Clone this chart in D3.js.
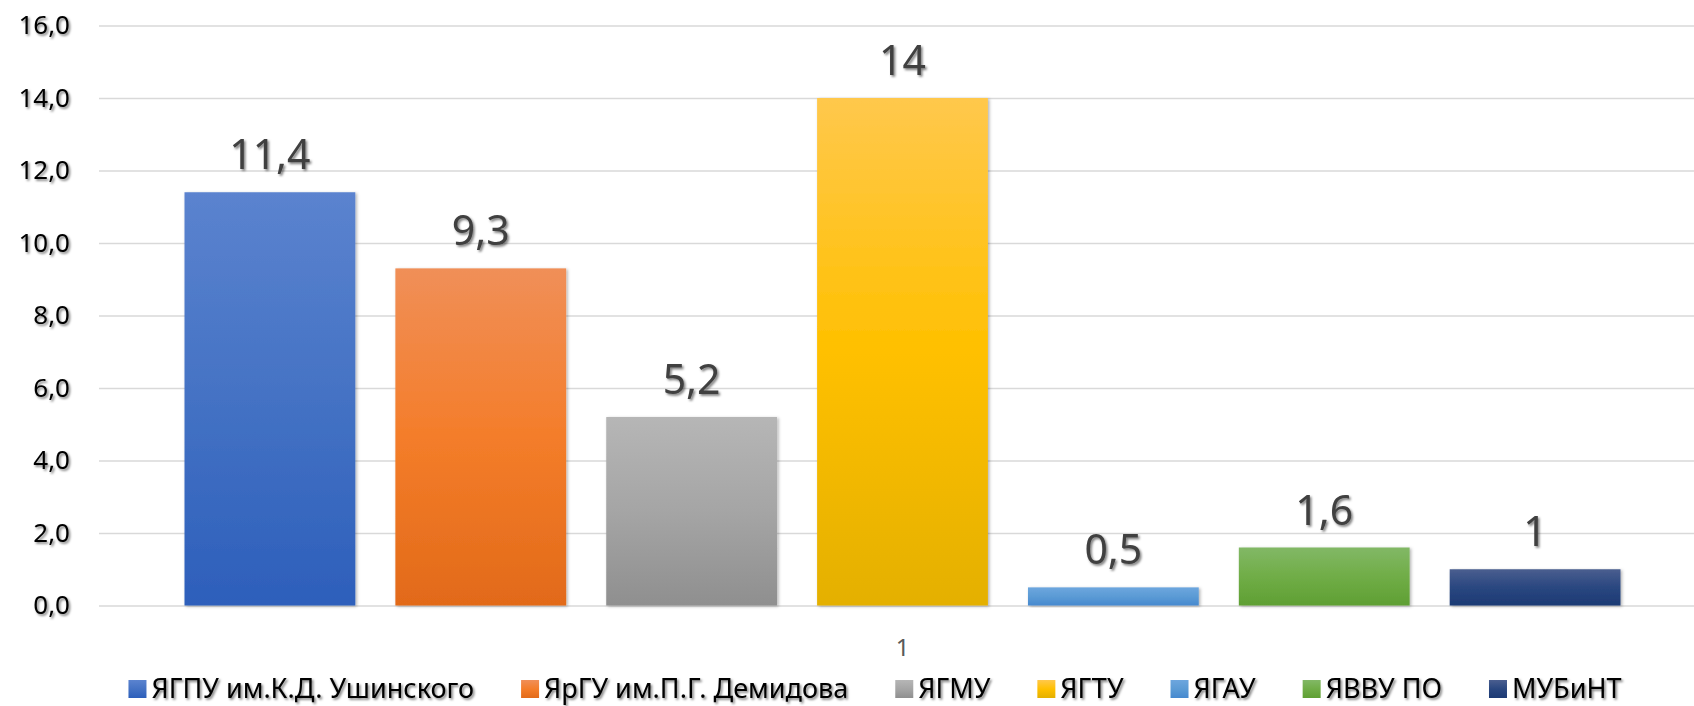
<!DOCTYPE html>
<html>
<head>
<meta charset="utf-8">
<script src="https://cdn.jsdelivr.net/npm/d3@7"></script>
<style>
  html, body { margin: 0; padding: 0; background: #fff; }
  svg { display: block; font-family: 'Noto Sans', 'Open Sans', sans-serif; }
</style>
</head>
<body>
<script>
(function() {
  'use strict';

  const categories = ['1'];
  const seriesNames = [
    'ЯГПУ им.К.Д. Ушинского',
    'ЯрГУ им.П.Г. Демидова',
    'ЯГМУ',
    'ЯГТУ',
    'ЯГАУ',
    'ЯВВУ ПО',
    'МУБиНТ'
  ];
  const seriesValues = [11.4, 9.3, 5.2, 14, 0.5, 1.6, 1];
  const yTicks = [0, 2, 4, 6, 8, 10, 12, 14, 16];
  // top / middle / bottom colours of the office-style gradient
  const seriesColors = [
    ['#5b83cf', '#4472c4', '#2d5fbb'],
    ['#f08f58', '#f47d2a', '#e26a19'],
    ['#b6b6b6', '#a5a5a5', '#8f8f8f'],
    ['#ffc84c', '#ffc000', '#e4b000'],
    ['#6da6de', '#5b9bd5', '#4689cf'],
    ['#82b866', '#70ad47', '#5f9f33'],
    ['#4a5e8f', '#2a4780', '#1c3a74']
  ];

  const w = 1694;
  const h = 706;
  const plotLeft = 99;
  const plotRight = 1706;
  const plotTop = 25.5;
  const plotBottom = 605.5;

  const ru = d3.formatLocale({decimal: ',', thousands: ' ', grouping: [3], currency: ['', '']});
  const axisFormat = ru.format('.1f');
  const labelFormat = ru.format('~g');

  const svg =
    d3.select('body')
      .append('svg')
      .attr('width', w)
      .attr('height', h);

  const defs = svg.append('defs');

  // soft shadow used on texts and bars
  const textShadow = defs.append('filter')
    .attr('id', 'text-shadow')
    .attr('x', '-20%').attr('y', '-20%')
    .attr('width', '140%').attr('height', '140%');
  textShadow.append('feDropShadow')
    .attr('dx', 1.6).attr('dy', 1.8)
    .attr('stdDeviation', 1.1)
    .attr('flood-color', '#000')
    .attr('flood-opacity', 0.5);

  const barShadow = defs.append('filter')
    .attr('id', 'bar-shadow')
    .attr('x', '-10%').attr('y', '-10%')
    .attr('width', '120%').attr('height', '120%');
  barShadow.append('feDropShadow')
    .attr('dx', 1.5).attr('dy', 1)
    .attr('stdDeviation', 1.5)
    .attr('flood-color', '#000')
    .attr('flood-opacity', 0.3);

  seriesColors.forEach(function(c, i) {
    const g = defs.append('linearGradient')
      .attr('id', 'grad' + i)
      .attr('x1', 0).attr('y1', 0)
      .attr('x2', 0).attr('y2', 1);
    g.append('stop').attr('offset', '0%').attr('stop-color', c[0]);
    g.append('stop').attr('offset', '50%').attr('stop-color', c[1]);
    g.append('stop').attr('offset', '100%').attr('stop-color', c[2]);
  });

  // scales
  const xCat =
    d3.scaleBand()
      .domain(categories)
      .range([plotLeft, plotRight]);

  const catGap = 85.5;
  const xSeries =
    d3.scaleBand()
      .domain(seriesNames)
      .range([catGap, xCat.bandwidth() - catGap])
      .paddingInner(0.19)
      .paddingOuter(0);

  const yScale =
    d3.scaleLinear()
      .domain([0, 16])
      .range([plotBottom, plotTop]);

  // y axis with gridlines
  const yAxis = d3.axisLeft(yScale)
    .tickValues(yTicks)
    .tickFormat(axisFormat)
    .tickSize(-(plotRight - plotLeft))
    .tickPadding(29);

  const yAxisG = svg.append('g')
    .attr('id', 'y-axis')
    .attr('transform', 'translate(' + plotLeft + ',0)')
    .call(yAxis);
  yAxisG.select('.domain').remove();
  yAxisG.selectAll('line')
    .attr('stroke', '#d9d9d9')
    .attr('stroke-width', 1.5);
  yAxisG.selectAll('text')
    .attr('fill', '#000')
    .attr('font-size', 26)
    .attr('font-family', "'Noto Sans', sans-serif")
    .attr('filter', 'url(#text-shadow)');

  // bars
  const catG = svg.selectAll('.cat')
    .data(categories)
    .enter()
    .append('g')
    .attr('class', 'cat')
    .attr('transform', (d) => 'translate(' + xCat(d) + ',0)');

  const rows = seriesNames.map((name, i) => ({name: name, value: seriesValues[i], idx: i}));

  catG.selectAll('rect')
    .data(rows)
    .enter()
    .append('rect')
    .attr('class', 'bar')
    .attr('x', (d) => xSeries(d.name))
    .attr('y', (d) => yScale(d.value))
    .attr('width', xSeries.bandwidth())
    .attr('height', (d) => yScale(0) - yScale(d.value))
    .attr('fill', (d) => 'url(#grad' + d.idx + ')')
    .attr('filter', 'url(#bar-shadow)');

  // data labels
  catG.selectAll('.label')
    .data(rows)
    .enter()
    .append('text')
    .attr('class', 'label')
    .attr('x', (d) => xSeries(d.name) + xSeries.bandwidth() / 2)
    .attr('y', (d) => yScale(d.value) - 23)
    .attr('text-anchor', 'middle')
    .attr('font-size', 41)
    .attr('fill', '#404040')
    .attr('filter', 'url(#text-shadow)')
    .text((d) => labelFormat(d.value));

  // category axis label
  svg.selectAll('.cat-label')
    .data(categories)
    .enter()
    .append('text')
    .attr('class', 'cat-label')
    .attr('x', (d) => xCat(d) + xCat.bandwidth() / 2)
    .attr('y', 656)
    .attr('text-anchor', 'middle')
    .attr('font-size', 24)
    .attr('fill', '#595959')
    .text((d) => d);

  // legend
  const legend = svg.append('g').attr('id', 'legend');
  const items = legend.selectAll('g')
    .data(rows)
    .enter()
    .append('g');
  items.append('rect')
    .attr('width', 18)
    .attr('height', 18)
    .attr('y', 680)
    .attr('fill', (d) => 'url(#grad' + d.idx + ')');
  items.append('text')
    .attr('x', 23)
    .attr('y', 698)
    .attr('font-size', 27)
    .attr('fill', '#000')
    .attr('filter', 'url(#text-shadow)')
    .text((d) => d.name);

  const itemGap = 47;
  const widths = [];
  items.each(function() {
    widths.push(23 + d3.select(this).select('text').node().getComputedTextLength());
  });
  const total = d3.sum(widths) + itemGap * (widths.length - 1);
  let pos = 875 - total / 2;
  items.attr('transform', function(d, i) {
    const t = 'translate(' + pos + ',0)';
    pos += widths[i] + itemGap;
    return t;
  });
}());
</script>
</body>
</html>
